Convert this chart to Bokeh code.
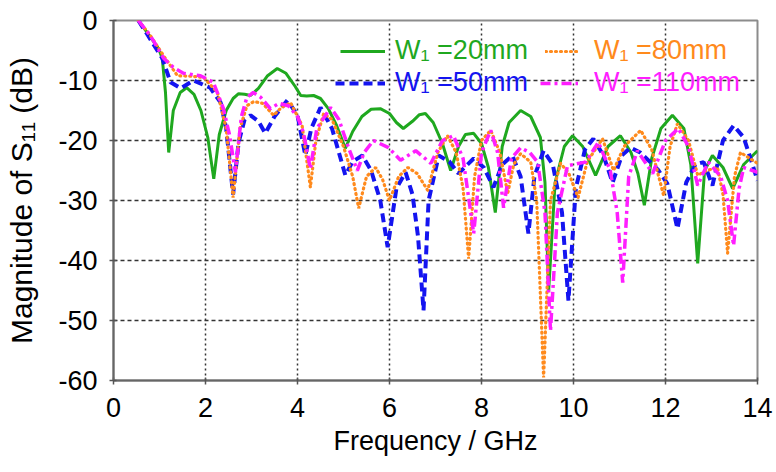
from bokeh.plotting import figure
from bokeh.models import Legend, LegendItem, FixedTicker, Range1d
from bokeh.embed import file_html
from bokeh.resources import INLINE

# ---- data ----
f_20 = [0.54, 0.75, 0.98, 1.06, 1.13, 1.2, 1.3, 1.45, 1.59, 1.75, 1.9, 2.05, 2.18, 2.3, 2.45, 2.6,
        2.72, 2.85, 2.98, 3.15, 3.35, 3.56, 3.75, 3.95, 4.07, 4.2, 4.35, 4.5, 4.67, 4.85, 5.04, 5.2,
        5.4, 5.6, 5.8, 6.0, 6.15, 6.3, 6.5, 6.65, 6.78, 6.95, 7.15, 7.33, 7.5, 7.65, 7.83, 8.0, 8.15,
        8.3, 8.45, 8.6, 8.85, 9.07, 9.28, 9.38, 9.46, 9.6, 9.8, 9.98, 10.2, 10.48, 10.75, 11.02, 11.25,
        11.4, 11.54, 11.7, 11.9, 12.15, 12.4, 12.55, 12.7, 12.85, 13.02, 13.25, 13.46, 13.7, 14.0]
s_20 = [0, -2.2, -4.7, -6.3, -12, -22, -15, -12, -11.2, -12.3, -15, -19.5, -26.4, -19, -15, -13,
        -12.2, -12.3, -12.5, -11.3, -9.2, -8, -8.8, -11, -12.5, -12.6, -12.5, -13, -14.7, -17.5, -21.3, -18.5,
        -16, -14.8, -14.7, -15.5, -17, -18, -16.8, -15.7, -15.5, -17, -20.5, -25, -21, -19, -18.8, -20.5, -24.5,
        -32, -21, -17, -15, -16, -19.5, -27, -45, -27, -21, -19.2, -21, -25.8, -21, -19.2, -22,
        -25.5, -30.8, -23, -18, -15.8, -18, -24, -40.5, -25, -22.5, -24.5, -28, -24, -21.7]

f_50 = [0.54, 0.75, 1.06, 1.24, 1.46, 1.74, 2.1, 2.33, 2.45, 2.6, 2.72, 2.85, 2.98, 3.15, 3.3, 3.5,
        3.78, 4.0, 4.17, 4.3, 4.5, 4.75, 4.9, 5.04, 5.2, 5.41, 5.6, 5.8, 5.96, 6.15, 6.35, 6.5, 6.62,
        6.74, 6.85, 7.07, 7.3, 7.5, 7.83, 8.05, 8.26, 8.45, 8.67, 8.85, 9.02, 9.15, 9.35, 9.55, 9.75,
        9.89, 10.05, 10.25, 10.43, 10.65, 10.85, 11.05, 11.24, 11.45, 11.67, 11.85, 12.04, 12.26, 12.45,
        12.65, 12.83, 13.02, 13.25, 13.48, 13.7, 13.85, 14.0]
s_50 = [0, -2.5, -6.3, -10.3, -11.3, -10, -11.2, -13.7, -18, -29, -20.3, -16.5, -15.8, -16.8, -18.8, -16,
        -13.3, -15.8, -22.5, -18, -14.5, -18, -22, -25.8, -23.5, -22.5, -25, -30, -37.8, -28, -25.3, -29, -36,
        -48.3, -30, -22.5, -23.5, -25.5, -23, -24.5, -27.8, -24, -22.5, -26, -35.5, -26, -21.7, -24, -32,
        -46.7, -28, -21.5, -19.7, -22.5, -27, -22.5, -21.2, -22, -23.6, -25, -27.2, -34.7, -27,
        -24, -23.6, -27.5, -20, -17.5, -19.5, -23, -26.7]

f_80 = [0.54, 0.8, 1.1, 1.39, 1.7, 1.96, 2.26, 2.45, 2.6, 2.75, 2.9, 3.05, 3.24, 3.48, 3.65, 3.85,
        4.1, 4.28, 4.4, 4.57, 4.75, 5.0, 5.2, 5.33, 5.5, 5.7, 5.85, 6.0, 6.2, 6.4, 6.6, 6.83, 7.05,
        7.26, 7.45, 7.6, 7.72, 7.85, 8.0, 8.2, 8.4, 8.57, 8.7, 8.85, 9.07, 9.2, 9.35, 9.5, 9.72, 9.9,
        10.1, 10.3, 10.63, 10.87, 11.1, 11.46, 11.7, 11.96, 12.1, 12.26, 12.5, 12.7, 12.9, 13.13,
        13.25, 13.35, 13.5, 13.63, 14.0]
s_80 = [0, -2.5, -6, -9.2, -9.3, -9.5, -12, -18, -29.5, -18, -14.2, -13.5, -13.8, -15.8, -14.5, -13.7,
        -17.5, -27.8, -20, -15.5, -16.5, -21, -26, -31.3, -26, -24.5, -26.5, -30, -26, -24.5, -25.5, -28.3, -22,
        -19.2, -22, -28, -39.7, -26, -20, -18.3, -22, -28.8, -24, -22.2, -23.6, -30, -59.5, -30, -23.8, -25.5,
        -29.5, -23.5, -19.7, -25, -21, -18.3, -21.5, -29.2, -21, -17.2, -20, -25.8, -25, -24.5,
        -29, -38.8, -26, -22, -23.8]

f_110 = [0.54, 0.8, 1.09, 1.3, 1.52, 1.89, 2.17, 2.39, 2.52, 2.65, 2.78, 2.9, 3.04, 3.2, 3.41, 3.6,
         3.8, 4.0, 4.13, 4.28, 4.42, 4.61, 4.72, 4.9, 5.1, 5.3, 5.45, 5.65, 5.98, 6.24, 6.57, 6.9, 7.15,
         7.39, 7.6, 7.83, 8.0, 8.2, 8.35, 8.48, 8.65, 8.85, 9.05, 9.22, 9.38, 9.5, 9.65, 9.87, 10.26,
         10.54, 10.8, 10.95, 11.07, 11.2, 11.39, 11.72, 12.0, 12.28, 12.5, 12.7, 12.93, 13.2, 13.35,
         13.48, 13.6, 13.7, 14.0]
s_110 = [0, -2.5, -6.3, -7.8, -8.8, -9.2, -10.3, -14.7, -19, -25.3, -16, -12.8, -12, -12.8, -14.7, -13.8,
         -14.2, -16, -18.7, -24.7, -18, -15.8, -14.5, -16.5, -21, -25, -22, -20, -21.2, -23.3, -21.7, -23.8, -20,
         -19.2, -23, -35.5, -22, -18.3, -22, -31.2, -23, -21.2, -22, -23.6, -32, -51.7, -32, -24.2, -23.6,
         -20.3, -25, -32, -43.7, -26, -21.7, -25.5, -20, -18, -21, -27.5, -23.6, -26, -30,
         -37.5, -28, -24.5, -25.3]

x_ticks = [0, 2, 4, 6, 8, 10, 12, 14]
y_ticks = [0, -10, -20, -30, -40, -50, -60]
y_tick_labels = ["0", "-10", "-20", "-30", "-40", "-50", "-60"]
labels = ["W\u2081 =20mm", "W\u2081 =50mm", "W\u2081 =80mm", "W\u2081 =110mm"]

GREEN = "#1fa81f"
BLUE = "#1414f0"
ORANGE = "#ff8a1c"
MAGENTA = "#ff1eff"
FONT = "Liberation Sans"

p = figure(width=776, height=472, output_backend="svg", toolbar_location=None,
           x_range=Range1d(0, 14), y_range=Range1d(-60, 0),
           min_border_left=113, min_border_right=19, min_border_top=20, min_border_bottom=92)
p.background_fill_color = "white"
p.border_fill_color = "white"
p.outline_line_color = "#8c8c8c"
p.outline_line_width = 2

for ax in (p.xaxis[0], p.yaxis[0]):
    ax.axis_line_color = "#666666"
    ax.axis_line_width = 2
    ax.major_tick_line_color = "#555555"
    ax.major_tick_line_width = 1.5
    ax.major_tick_in = 3
    ax.major_tick_out = 4
    ax.minor_tick_line_color = None
    ax.major_label_text_font = FONT
    ax.major_label_text_font_size = "27px"
    ax.major_label_text_color = "black"
    ax.axis_label_text_font = FONT
    ax.axis_label_text_font_style = "normal"
    ax.axis_label_text_color = "black"

p.xaxis[0].ticker = FixedTicker(ticks=x_ticks)
p.yaxis[0].ticker = FixedTicker(ticks=y_ticks)
p.yaxis[0].major_label_overrides = {t: s for t, s in zip(y_ticks, y_tick_labels)}
p.xaxis[0].major_label_standoff = 13
p.yaxis[0].major_label_standoff = 12
p.xaxis[0].axis_label = "Frequency / GHz"
p.xaxis[0].axis_label_text_font_size = "27px"
p.xaxis[0].axis_label_standoff = 6
p.yaxis[0].axis_label = "Magnitude of S\u2081\u2081 (dB)"
p.yaxis[0].axis_label_text_font_size = "30px"
p.yaxis[0].axis_label_standoff = 17

p.xgrid[0].ticker = FixedTicker(ticks=x_ticks)
p.ygrid[0].ticker = FixedTicker(ticks=y_ticks)
p.xgrid.grid_line_color = "#333333"
p.xgrid.grid_line_dash = "2 3"
p.xgrid.grid_line_width = 1.5
p.ygrid.grid_line_color = "#333333"
p.ygrid.grid_line_dash = "4 3"
p.ygrid.grid_line_width = 1.5

r20 = p.line(f_20, s_20, line_color=GREEN, line_width=3)
r50 = p.line(f_50, s_50, line_color=BLUE, line_width=4, line_dash="9 5")
r80 = p.line(f_80, s_80, line_color=ORANGE, line_width=3.2, line_dash="1 4", line_cap="round")
r110 = p.line(f_110, s_110, line_color=MAGENTA, line_width=3.5, line_dash="10 4 3 4")

def add_legend(renderer, label, color, loc, gw, standoff):
    lg = Legend(items=[LegendItem(label=label, renderers=[renderer])], location=loc,
                padding=0, margin=0, spacing=0, glyph_width=gw, glyph_height=26,
                label_standoff=standoff, label_text_font=FONT, label_text_font_size="27px",
                label_text_color=color, label_height=26,
                border_line_alpha=0, background_fill_alpha=0)
    p.add_layout(lg, "center")

add_legend(r20, labels[0], GREEN, (227, 314), 45, 10)
add_legend(r50, labels[1], BLUE, (222, 282), 50, 10)
add_legend(r80, labels[2], ORANGE, (432, 314), 33, 16)
add_legend(r110, labels[3], MAGENTA, (427, 282), 38, 16)

open("out.html", "w").write(file_html(p, INLINE))
